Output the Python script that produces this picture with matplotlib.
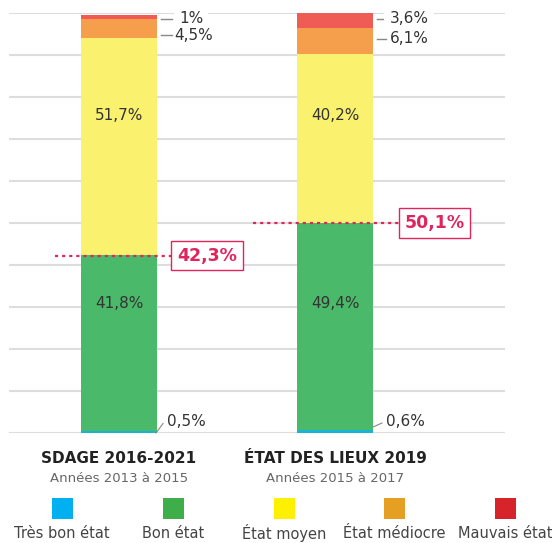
import matplotlib
matplotlib.use("Agg")
import matplotlib.pyplot as plt
from matplotlib.patches import Rectangle
from matplotlib.lines import Line2D
import matplotlib.transforms as mtransforms

plt.rcParams['font.family'] = ['DejaVu Sans']

# ---- data ----
groups = ["SDAGE 2016-2021", "ÉTAT DES LIEUX 2019"]
subtitles = ["Années 2013 à 2015", "Années 2015 à 2017"]
categories = ["Très bon état", "Bon état", "État moyen", "État médiocre", "Mauvais état"]
tres_bon = [0.5, 0.6]
bon = [41.8, 49.4]
moyen = [51.7, 40.2]
mediocre = [4.5, 6.1]
mauvais = [1.0, 3.6]
bon_ou_mieux = [42.3, 50.1]
series = [tres_bon, bon, moyen, mediocre, mauvais]

bar_colors = ["#17B4D4", "#4BB96A", "#FAF16E", "#F59E4B", "#EF5C55"]
legend_colors = ["#00B0F0", "#3DAE49", "#FFEF00", "#E5A023", "#D7232A"]
crimson = "#E0245E"
dark = "#333333"

def fmt(v):
    s = ("%.1f" % v).replace(".", ",")
    if s.endswith(",0"):
        s = s[:-2]
    return s + "%"

W, H = 552, 543
fig = plt.figure(figsize=(W / 100, H / 100), dpi=100)
# pixel transform (origin top-left)
px = mtransforms.Affine2D().scale(1 / W, -1 / H).translate(0, 1) + fig.transFigure

ax_left, ax_right, ax_top, ax_bot = 9, 505, 13.3, 433.3
ax = fig.add_axes([ax_left / W, 1 - ax_bot / H, (ax_right - ax_left) / W, (ax_bot - ax_top) / H])
c0, step = 119, 216  # pixel centre of first bar, distance between bars
ax.set_xlim((ax_left - c0) / step, (ax_right - c0) / step)
ax.set_ylim(0, 100)
for s in ax.spines.values():
    s.set_visible(False)
ax.set_xticks([])
ax.set_yticks(range(0, 101, 10))
ax.tick_params(left=False, labelleft=False)
ax.grid(axis='y', color="#DDDDDD", linewidth=1.5)
ax.set_axisbelow(True)

x = [0, 1]
width = 76 / step
bottom = [0.1, 0.1]
for vals, col in zip(series, bar_colors):
    ax.bar(x, vals, width=width, bottom=bottom, color=col, linewidth=0, zorder=2)
    bottom = [b + v for b, v in zip(bottom, vals)]

# inside labels
for i in range(2):
    cx = c0 + i * step
    fig.text(cx / W, 1 - 115 / H, fmt(moyen[i]), ha='center', va='center', fontsize=11, color=dark)
    fig.text(cx / W, 1 - 303 / H, fmt(bon[i]), ha='center', va='center', fontsize=11, color=dark)

# outside top labels with leader lines
top_lab = [
    # (value, text_x_center, y, leader x0, x1, white bg)
    (mauvais[0], 191, 18.5, 161, 172, True),
    (mediocre[0], 194, 35, 161, 172, False),
    (mauvais[1], 409, 18.5, 377, 386, True),
    (mediocre[1], 409, 38.5, 377, 386, False),
]
for v, tx, ty, l0, l1, bg in top_lab:
    kw = {}
    if bg:
        kw['bbox'] = dict(boxstyle='square,pad=0.35', fc='white', ec='none')
    fig.text(tx, ty, fmt(v), transform=px, ha='center', va='center', fontsize=11, color=dark, zorder=5, **kw)
    fig.add_artist(Line2D([l0, l1], [ty, ty], transform=px, color="#888888", lw=1))

# bottom labels
fig.add_artist(Line2D([156, 163], [433, 423.5], transform=px, color="#888888", lw=0.8))
fig.text(186, 421, fmt(tres_bon[0]), transform=px, ha='center', va='center', fontsize=11, color=dark)
fig.add_artist(Line2D([373, 382], [427, 423], transform=px, color="#888888", lw=0.8))
fig.text(405, 421, fmt(tres_bon[1]), transform=px, ha='center', va='center', fontsize=11, color=dark)

# dotted threshold lines and boxes
dot_ranges = [(55, 173), (253, 400)]
box_centers = [207, 434.5]
for i in range(2):
    x0, x1 = dot_ranges[i]
    ax.plot([(x0 - c0) / step, (x1 - c0) / step], [bon_ou_mieux[i]] * 2, color=crimson,
            lw=1.6, linestyle=(0, (1.4, 1.8)), zorder=4, clip_on=False)
    ax.text((box_centers[i] - c0) / step, bon_ou_mieux[i], fmt(bon_ou_mieux[i]), ha='center', va='center',
            fontsize=12.5, fontweight='bold', color=crimson, zorder=5,
            bbox=dict(boxstyle='square,pad=0.33', fc='white', ec=crimson, lw=1))

# titles
for i in range(2):
    cx = c0 + i * step
    fig.text(cx, 458.5, groups[i], transform=px, ha='center', va='center', fontsize=11,
             fontweight='bold', color="#222222")
    fig.text(cx, 478.5, subtitles[i], transform=px, ha='center', va='center', fontsize=9.5,
             color="#666666")

# legend
leg_centers = [62, 173, 284, 394.5, 505]
for cx, col, lab in zip(leg_centers, legend_colors, categories):
    fig.add_artist(Rectangle((cx - 10.5, 497.5), 21, 21, transform=px, color=col, lw=0))
    fig.text(cx, 533, lab, transform=px, ha='center', va='center', fontsize=10.5, color="#444444")

fig.savefig("out.png", dpi=100)
